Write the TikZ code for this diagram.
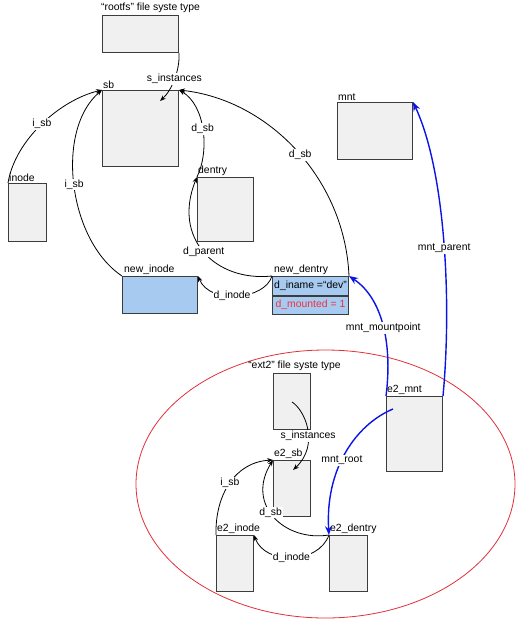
\documentclass[tikz,border=0pt]{standalone}
\usepackage{fontspec}
\setmainfont{Liberation Sans}
\usetikzlibrary{arrows.meta}

\definecolor{boxgray}{HTML}{F0F0F0}
\definecolor{boxedge}{HTML}{3C3C3C}
\definecolor{boxblue}{HTML}{A6CAF0}
\definecolor{linkblue}{HTML}{0A14E6}
\definecolor{ringred}{HTML}{E0303A}
\definecolor{flagred}{HTML}{F0303C}

\begin{document}
\begin{tikzpicture}[
  x=1pt, y=-1pt,
  every node/.style={font=\fontsize{10.4}{12}\selectfont},
  obj/.style={
    draw=boxedge, fill=boxgray, line width=1pt,
    anchor=north west, inner sep=0pt,
  },
  objblue/.style={obj, fill=boxblue},
  tag/.style={anchor=south west, inner sep=1pt},
  link/.style={
    line width=0.8pt,
    -{Stealth[length=6pt,width=4.5pt]},
  },
  mntlink/.style={
    draw=linkblue, line width=1.4pt,
    -{Stealth[length=9pt,width=7pt]},
  },
  field/.style={fill=white, inner sep=1pt},
  ]
  \useasboundingbox (0,0) rectangle (518,622);
  \draw [ringred, line width=0.8pt] (325.5,484) ellipse [x radius=189.5, y radius=134];

  \node [obj, minimum width=76pt, minimum height=37pt] (rootfs) at (102,15) {};
  \node [obj, minimum width=76pt, minimum height=76pt] (sb) at (102,90) {};
  \node [obj, minimum width=38pt, minimum height=58pt] (inode) at (8,183) {};
  \node [obj, minimum width=56pt, minimum height=64pt] (dentry) at (197,177) {};
  \node [objblue, minimum width=75pt, minimum height=37pt] (new-inode) at (122,276) {};
  \node [objblue, minimum width=76pt, minimum height=18.5pt] (dn-name) at (272,276) {d\_iname =“dev”};
  \node [objblue, minimum width=76pt, minimum height=18.5pt, text=flagred] (dn-mount) at (dn-name.south west) {d\_mounted = 1};
  \node [obj, minimum width=75pt, minimum height=57pt] (mnt) at (337,102) {};
  \node [obj, minimum width=37pt, minimum height=56pt] (ext2) at (273,373) {};
  \node [obj, minimum width=37pt, minimum height=56pt] (e2-sb) at (273,460) {};
  \node [obj, minimum width=37pt, minimum height=56pt] (e2-inode) at (216,535) {};
  \node [obj, minimum width=38pt, minimum height=56pt] (e2-dentry) at (329,535) {};
  \node [obj, minimum width=56pt, minimum height=75pt] (e2-mnt) at (386,396) {};

  \node (rootfs-title) at (150.5,8) {“rootfs” file syste type};
  \node (ext2-title) at (294.5,366) {“ext2” file syste type};
  \node [tag] (sb-tag) at (sb.north west) {sb};
  \node [tag] (inode-tag) at (inode.north west) {inode};
  \node [tag] (dentry-tag) at (dentry.north west) {dentry};
  \node [tag, xshift=1pt] (new-inode-tag) at (new-inode.north west) {new\_inode};
  \node [tag, xshift=1pt] (new-dentry-tag) at (dn-name.north west) {new\_dentry};
  \node [tag] (mnt-tag) at (mnt.north west) {mnt};
  \node [tag] (e2-sb-tag) at (e2-sb.north west) {e2\_sb};
  \node [tag] (e2-inode-tag) at (e2-inode.north west) {e2\_inode};
  \node [tag] (e2-dentry-tag) at (e2-dentry.north west) {e2\_dentry};
  \node [tag] (e2-mnt-tag) at (e2-mnt.north west) {e2\_mnt};

  \coordinate (sb-in) at (160,101);
  \coordinate (ext2-out) at (292,402);
  \coordinate (e2-sb-in) at (293,470);
  \coordinate (e2-mnt-out) at (393,409);

  \draw [link] (rootfs.south east) .. controls (180,70) and (172,90) .. (sb-in)
    node [field, pos=0.5] (lbl-sinst) {s\_instances};
  \draw [link] (inode.north west) .. controls (15,140) and (60,100) .. (sb.north west)
    node [field, pos=0.5] (lbl-isb) {i\_sb};
  \draw [link] (new-inode.north west) .. controls (68,240) and (55,130) .. (sb.north west)
    node [field, pos=0.5] (lbl-new-isb) {i\_sb};
  \draw [link] (dentry.north west) .. controls (210,150) and (205,105) .. (sb.north east)
    node [field, pos=0.5] (lbl-dsb) {d\_sb};
  \draw [link] (dn-name.north east) .. controls (345,180) and (270,100) .. (sb.north east)
    node [field, pos=0.48] (lbl-new-dsb) {d\_sb};
  \draw [link] (dn-name.north west) .. controls (215,282) and (172,238) .. (dentry.north west)
    node [field, pos=0.5] (lbl-dparent) {d\_parent};
  \draw [link] (dn-name.north west) .. controls (265,300) and (210,305) .. (new-inode.north east)
    node [field, pos=0.55] (lbl-dinode) {d\_inode};

  \draw [mntlink] (e2-mnt.north west) .. controls (392,350) and (385,300) .. (dn-name.north east)
    node [field, pos=0.5, text=black] (lbl-mountpoint) {mnt\_mountpoint};
  \draw [mntlink] (e2-mnt.north east) .. controls (452,300) and (445,170) .. (mnt.north east)
    node [field, pos=0.47, text=black] (lbl-parent) {mnt\_parent};
  \draw [mntlink] (e2-mnt-out) .. controls (355,425) and (325,470) .. (e2-dentry.north west)
    node [field, pos=0.55, text=black] (lbl-root) {mnt\_root};

  \draw [link] (ext2-out) .. controls (305,410) and (320,445) .. (e2-sb-in)
    node [field, pos=0.58] (lbl-e2-sinst) {s\_instances};
  \draw [link] (e2-inode.north west) .. controls (215,495) and (235,462) .. (e2-sb.north west)
    node [field, pos=0.5] (lbl-e2-isb) {i\_sb};
  \draw [link] (e2-dentry.north west) .. controls (285,542) and (245,505) .. (e2-sb.north west)
    node [field, pos=0.55] (lbl-e2-dsb) {d\_sb};
  \draw [link] (e2-dentry.north west) .. controls (318,565) and (265,565) .. (e2-inode.north east)
    node [field, pos=0.5] (lbl-e2-dinode) {d\_inode};
\end{tikzpicture}
\end{document}
